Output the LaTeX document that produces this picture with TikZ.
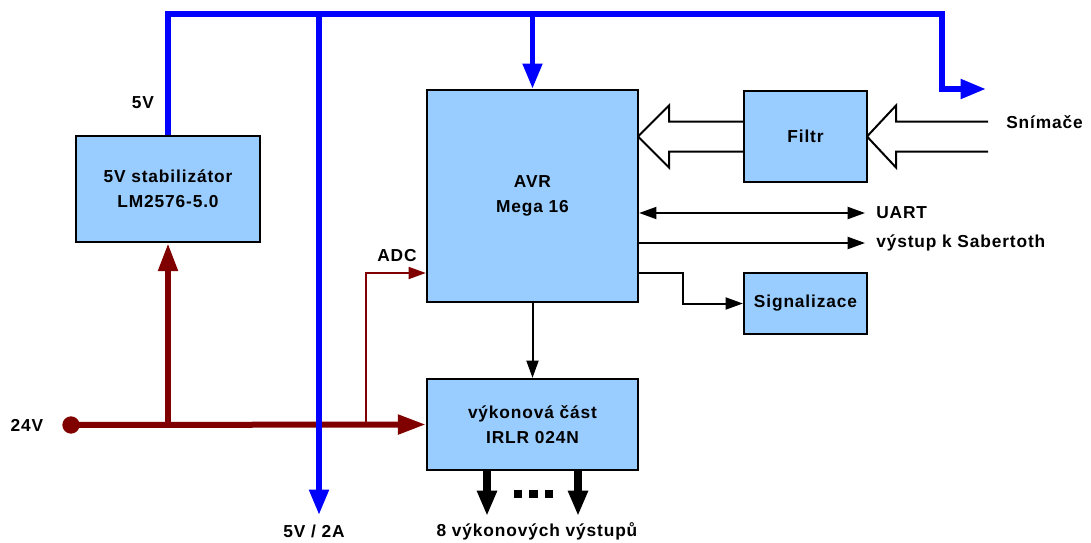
\documentclass[tikz,border=0pt]{standalone}
\usepackage{fontspec}
\setmainfont{Liberation Sans}[LetterSpace=5.0]
\usetikzlibrary{arrows.meta,calc}
\definecolor{boxfill}{HTML}{99CCFF}
\definecolor{bus}{HTML}{0000FF}
\definecolor{pwr}{HTML}{800000}
\begin{document}
\begin{tikzpicture}[x=0.75pt,y=-0.75pt,
  font=\bfseries\fontsize{13}{19}\selectfont,
  blk/.style={draw=black,line width=1.7pt,fill=boxfill,align=center,inner sep=0pt},
  lbl/.style={inner sep=0pt,text=black},
  busline/.style={draw=bus,line width=4.3pt,line join=miter},
  busarrow/.style={busline,-{Triangle[length=19pt,width=14pt]}},
  pwrline/.style={draw=pwr,line width=4.5pt},
  pwrarrow/.style={pwrline,-{Triangle[length=21pt,width=14pt]}},
  thinpwr/.style={draw=pwr,line width=1.5pt,-{Triangle[length=13pt,width=9pt]}},
  sig/.style={draw=black,line width=1.5pt,-{Triangle[length=13pt,width=9pt]}},
  sigboth/.style={draw=black,line width=1.5pt,{Triangle[length=13pt,width=9pt]}-{Triangle[length=13pt,width=9pt]}},
  hollow/.style={draw=black,line width=1.5pt,line join=miter},
  outarrow/.style={draw=black,line width=5.5pt,-{Triangle[length=19pt,width=14pt]}},
  dot/.style={fill=black,minimum size=6.4pt,inner sep=0pt}]
\useasboundingbox (0,0) rectangle (1091,542);

% coordinates
\coordinate (bus) at (168,14);
\coordinate (busR) at (942,14);
\coordinate (busRd) at (942,89);
\coordinate (busRe) at (986,89);
\coordinate (v52) at (319,515);
\coordinate (p24) at (71,425);
\coordinate (adcx) at (366,273);
\coordinate (uartE) at (865,213);
\coordinate (sabE) at (865,243);
\coordinate (sigy) at (683,273);
\coordinate (o1) at (487,516);
\coordinate (o2) at (578,516);

% hollow arrows (behind boxes)
\coordinate (tipL) at (638,136.5);
\coordinate (tipR) at (867,136.5);
\draw[hollow] (744,121.5) -- ($(tipL)+(31,-15)$) -- ($(tipL)+(31,-31)$) -- (tipL)
  -- ($(tipL)+(31,31)$) -- ($(tipL)+(31,15)$) -- (744,151.5);
\draw[hollow] (988,121.5) -- ($(tipR)+(29,-15)$) -- ($(tipR)+(29,-31)$) -- (tipR)
  -- ($(tipR)+(29,31)$) -- ($(tipR)+(29,15)$) -- (988,151.5);

% boxes
\node[blk,minimum width=138pt,minimum height=79.5pt] (stab) at (168,189) {5V stabilizátor\\LM2576-5.0};
\node[blk,minimum width=158.25pt,minimum height=159pt] (avr) at (532.5,196) {AVR\\Mega 16};
\node[blk,minimum width=92.25pt,minimum height=68.25pt] (filtr) at (805.5,136.5) {Filtr};
\node[blk,minimum width=92.25pt,minimum height=45.75pt] (sigb) at (805.5,303.5) {Signalizace};
\node[blk,minimum width=158.25pt,minimum height=68.25pt] (vyk) at (532.5,424.5) {výkonová část\\IRLR 024N};

% 24V power (under the blue bus)
\draw[pwrarrow] (p24) -- (vyk.west);
\draw[pwrarrow] (stab.south |- p24) -- (stab.south);
\draw[thinpwr] (adcx |- p24) -- (adcx) -- (avr.west |- adcx);
\node[circle,fill=pwr,minimum size=13pt,inner sep=0pt] (d24) at (p24) {};

% blue 5V bus
\draw[busline] (stab.north) -- (bus) -- (busR) -- (busRd) -- ($(busRd)+(2,0)$);
\draw[busarrow] ($(busRd)+(-2,0)$) -- (busRe);
\draw[busarrow] (v52 |- bus) -- (v52);
\draw[busarrow] (avr.north |- bus) -- (avr.north);

% signal connectors
\draw[sig] (avr.south) -- (vyk.north);
\draw[sigboth] (avr.east |- uartE) -- (uartE);
\draw[sig] (avr.east |- sabE) -- (sabE);
\draw[sig] (avr.east |- sigy) -- (sigy) -- (sigy |- sigb.west) -- (sigb.west);

% outputs
\draw[outarrow] (o1 |- vyk.south) -- (o1);
\draw[outarrow] (o2 |- vyk.south) -- (o2);
\node[dot] (d1) at (518,494) {};
\node[dot] (d2) at (533.5,494) {};
\node[dot] (d3) at (549,494) {};

% labels
\node[lbl] (l5v) at (143,103) {5V};
\node[lbl] (l24) at (27,425) {24V};
\node[lbl] (l52) at (314,531) {5V / 2A};
\node[lbl] (ladc) at (397,256) {ADC};
\node[lbl,anchor=west] (luart) at (876,213) {UART};
\node[lbl,anchor=west] (lsab) at (876,243) {výstup k Sabertoth};
\node[lbl,anchor=west] (lsn) at (1006,122) {Snímače};
\node[lbl] (lout) at (537,531) {8 výkonových výstupů};
\end{tikzpicture}
\end{document}
